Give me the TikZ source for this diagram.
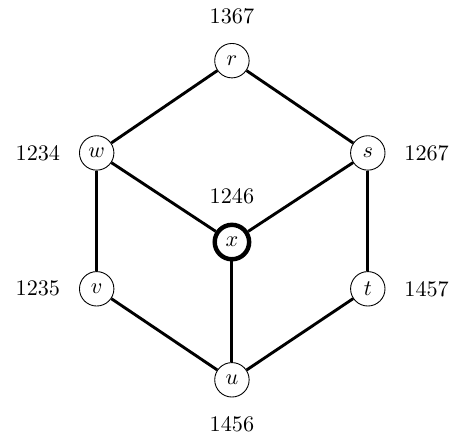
\documentclass[tikz,border=0pt]{standalone}
\begin{document}
\begin{tikzpicture}[
    vertex/.style={draw, circle, fill=white, minimum size=15.5pt, inner sep=0pt},
    hub/.style={vertex, line width=2pt},
    edge/.style={line width=1.3pt},
    every label/.style={label distance=5pt}
]
    \useasboundingbox (-3.67,-3.09) rectangle (3.53,3.83);

    \node[vertex, label=above:{1367}] (r) at (0,2.87) {$r$};
    \node[vertex, label=left:{1234}]  (w) at (-2.14,1.41) {$w$};
    \node[vertex, label=right:{1267}] (s) at (2.15,1.41) {$s$};
    \node[hub, label=above:{1246}]    (x) at (0,0) {$x$};
    \node[vertex, label=left:{1235}]  (v) at (-2.14,-0.74) {$v$};
    \node[vertex, label=right:{1457}] (t) at (2.15,-0.74) {$t$};
    \node[vertex, label=below:{1456}] (u) at (0,-2.18) {$u$};

    % edges
    \draw[edge] (r) -- (w);
    \draw[edge] (r) -- (s);
    \draw[edge] (w) -- (x);
    \draw[edge] (s) -- (x);
    \draw[edge] (w) -- (v);
    \draw[edge] (s) -- (t);
    \draw[edge] (x) -- (u);
    \draw[edge] (v) -- (u);
    \draw[edge] (t) -- (u);
\end{tikzpicture}
\end{document}
